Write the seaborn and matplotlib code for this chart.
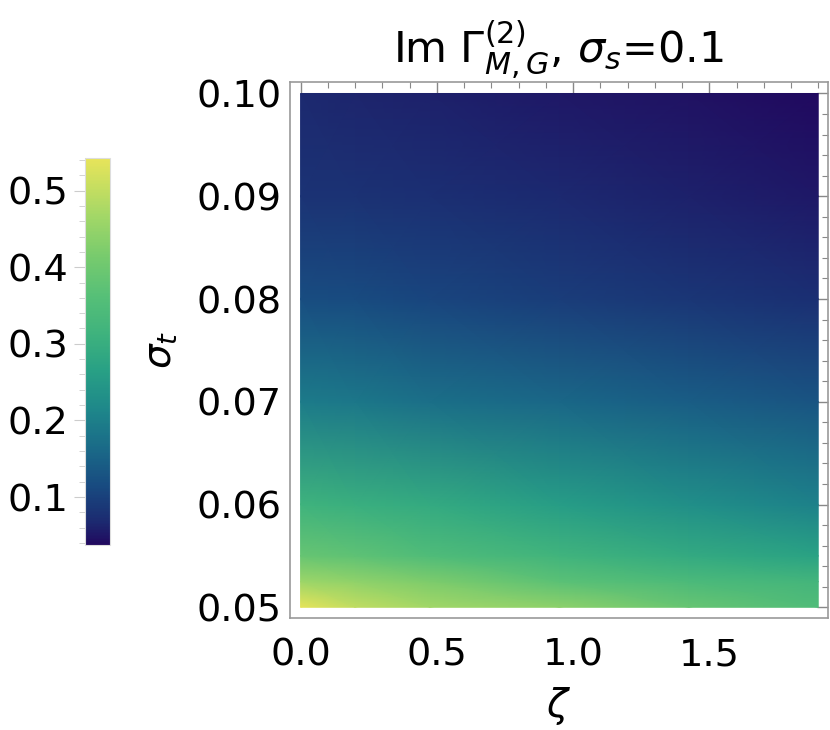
import numpy as np
import seaborn as sns
import matplotlib.pyplot as plt
from matplotlib.colors import LinearSegmentedColormap
from matplotlib.ticker import MultipleLocator

# values
zeta = [0.0, 0.2, 0.475, 0.95, 1.425, 1.9]
sigma_t = [0.05, 0.0525, 0.055, 0.06, 0.07, 0.08, 0.09, 0.10]
im_gamma = [
    [0.542, 0.500, 0.466, 0.440, 0.390, 0.350],
    [0.460, 0.445, 0.420, 0.370, 0.340, 0.325],
    [0.390, 0.375, 0.350, 0.318, 0.290, 0.268],
    [0.315, 0.305, 0.290, 0.258, 0.230, 0.204],
    [0.194, 0.186, 0.173, 0.158, 0.143, 0.128],
    [0.118, 0.114, 0.108, 0.095, 0.085, 0.075],
    [0.082, 0.079, 0.075, 0.067, 0.060, 0.052],
    [0.067, 0.064, 0.060, 0.052, 0.045, 0.037],
]
cbar_ticks = [0.1, 0.2, 0.3, 0.4, 0.5]

sns.set_style("white")
plt.rcParams['font.family'] = ['DejaVu Sans']
plt.rcParams['mathtext.fontset'] = 'dejavusans'
plt.rcParams['text.color'] = 'black'
plt.rcParams['axes.labelcolor'] = 'black'
plt.rcParams['xtick.labelcolor'] = 'black'
plt.rcParams['ytick.labelcolor'] = 'black'

cmap = LinearSegmentedColormap.from_list("mma", [
    (0.0, "#21095f"), (0.06, "#1c2a70"), (0.15, "#184a80"), (0.25, "#1a6a88"),
    (0.35, "#1e878a"), (0.45, "#28a085"), (0.55, "#3fb37d"), (0.65, "#58c077"),
    (0.75, "#78cb6d"), (0.85, "#a2d767"), (1.0, "#e7e45a")])

fig = plt.figure(figsize=(8.3, 7.3), dpi=100)
ax = fig.add_axes([0.349, 0.153, 0.648, 0.734])
cax = fig.add_axes([0.102, 0.253, 0.030, 0.530])

X, Y = np.meshgrid(zeta, sigma_t)
mesh = ax.pcolormesh(X, Y, np.array(im_gamma), shading="gouraud", cmap=cmap,
                     vmin=0.037, vmax=0.542, rasterized=True)

ax.set_xlim(-0.04, 1.934)
ax.set_ylim(0.04893, 0.10107)
ax.xaxis.set_major_locator(MultipleLocator(0.5))
ax.xaxis.set_minor_locator(MultipleLocator(0.1))
ax.yaxis.set_major_locator(MultipleLocator(0.01))
ax.yaxis.set_minor_locator(MultipleLocator(0.002))
ax.xaxis.set_major_formatter(plt.FuncFormatter(lambda v, p: f"{v:.1f}"))
ax.yaxis.set_major_formatter(plt.FuncFormatter(lambda v, p: f"{v:.2f}"))
ax.tick_params(which="both", direction="in", top=True, right=True, color="#888888",
               labelsize=27.5, pad=6)
ax.tick_params(axis="x", which="major", pad=14)
ax.tick_params(which="major", length=8, width=1)
ax.tick_params(which="minor", length=4, width=0.8)
for s in ax.spines.values():
    s.set_color("#999999")
    s.set_linewidth(1.2)

ax.set_xlabel(r"$\zeta$", fontsize=28, labelpad=8)
ax.set_ylabel(r"$\sigma_t$", fontsize=28, labelpad=12)
ax.set_title(r"Im $\Gamma^{(2)}_{M,G}$, $\sigma_s$=0.1", fontsize=31, pad=14)

cb = fig.colorbar(mesh, cax=cax, ticks=cbar_ticks)
cb.outline.set_edgecolor("#dddddd")
cax.yaxis.set_ticks_position("left")
cax.yaxis.set_label_position("left")
cax.yaxis.set_minor_locator(MultipleLocator(0.02))
cax.tick_params(which="both", direction="out", color="#cccccc", labelsize=27.5, pad=4)
cax.tick_params(which="major", length=8)
cax.tick_params(which="minor", length=4)

fig.savefig("out.png", dpi=100)
